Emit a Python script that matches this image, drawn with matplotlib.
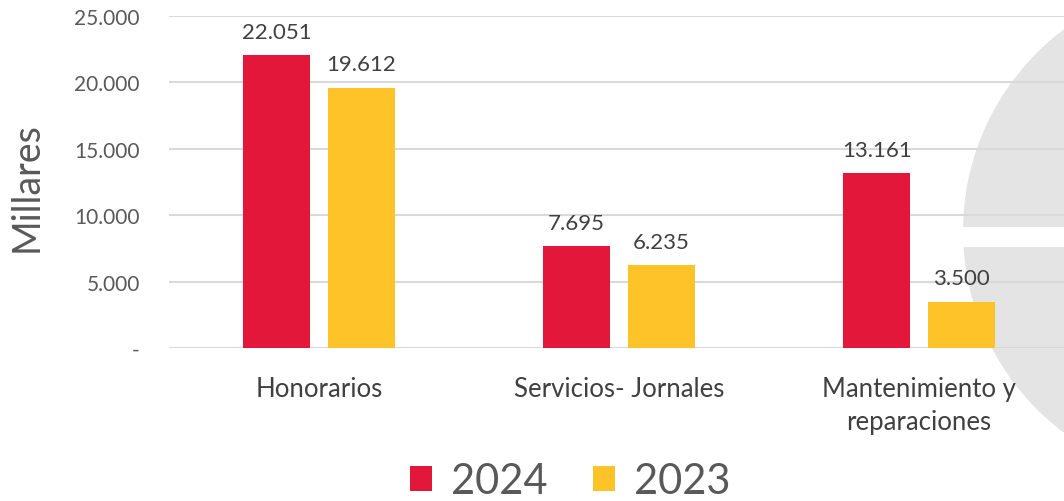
import matplotlib.pyplot as plt
import matplotlib.patches as mpatches
import numpy as np

categorias = ['Honorarios', 'Servicios- Jornales', 'Mantenimiento y\nreparaciones']
valores_2024 = [22051, 7695, 13161]
valores_2023 = [19612, 6235, 3500]
etiquetas = ['2024', '2023']
colores = ['#E3173A', '#FFC32A']

plt.rcParams['font.family'] = ['Lato', 'DejaVu Sans']

W, H = 1064, 502
fig = plt.figure(figsize=(W / 100, H / 100), dpi=100)
fig.patch.set_facecolor('white')

# circulo gris decorativo a la derecha (en pulgadas de la figura)
circ = mpatches.Circle((12.15, (H - 232) / 100), 2.52, transform=fig.dpi_scale_trans,
                       facecolor='#E4E4E4', edgecolor='none', zorder=-2)
fig.patches.append(circ)
banda = mpatches.Rectangle((9.5, (H - 248) / 100), 2.0, 0.20,
                           transform=fig.dpi_scale_trans, facecolor='white',
                           edgecolor='none', zorder=-1)
fig.patches.append(banda)

ax = fig.add_axes([169 / W, 1 - 349 / H, (W - 169) / W, (349 - 17) / H], zorder=1)
ax.patch.set_alpha(0)

x = np.arange(len(categorias))
ancho = 0.223
off = 0.141
b1 = ax.bar(x - off, valores_2024, ancho, color=colores[0], label=etiquetas[0], zorder=3)
b2 = ax.bar(x + off, valores_2023, ancho, color=colores[1], label=etiquetas[1], zorder=3)

def fmt(v):
    return '{:,}'.format(v).replace(',', '.')

for barras in (b1, b2):
    for b in barras:
        ax.text(b.get_x() + b.get_width() / 2, b.get_height() + 1000, fmt(int(b.get_height())),
                ha='center', va='bottom', fontsize=16, color='#404040')

ax.set_ylim(0, 25000)
ax.set_xlim(-0.5, (W - 169) / 300 - 0.5)
yt = np.arange(0, 25001, 5000)
ax.set_yticks(yt)
ax.set_yticklabels(['-'] + [fmt(v) for v in yt[1:]], fontsize=15, color='#595959')
ax.tick_params(axis='y', length=0, pad=21)
ax.set_xticks(x)
ax.set_xticklabels(categorias, fontsize=18.5, color='#404040', linespacing=1.42)
ax.tick_params(axis='x', length=0, pad=20)
ax.yaxis.grid(True, color='#D9D9D9', linewidth=1.5, zorder=0)
for s in ax.spines.values():
    s.set_visible(False)

fig.text(27 / W, 1 - 187 / H, 'Millares', rotation=90, ha='center', va='center',
         fontsize=27, color='#595959')

leg = fig.legend(handles=[b1, b2], labels=etiquetas, loc='center', bbox_to_anchor=(570 / W, 1 - 482 / H),
                 ncol=2, frameon=False, fontsize=30, handlelength=0.53, handleheight=0.53,
                 handletextpad=0.45, columnspacing=1.1, labelcolor='#595959')

fig.savefig('out.png', dpi=100, facecolor='white')
